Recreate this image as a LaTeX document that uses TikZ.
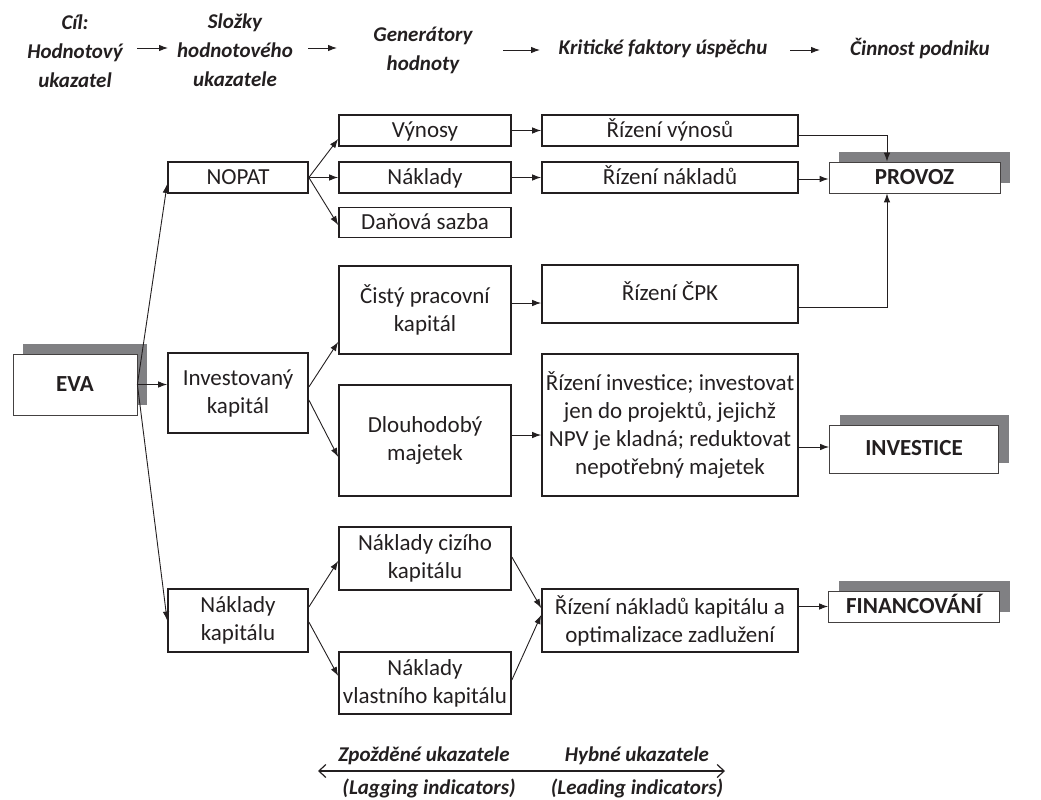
\documentclass[tikz,border=0pt]{standalone}
\usepackage{fontspec}
\setmainfont{Carlito}
\usetikzlibrary{arrows.meta,shadows}
\definecolor{ink}{RGB}{35,31,32}
\definecolor{shadowgray}{RGB}{128,128,131}

\begin{document}
\begin{tikzpicture}[x=1pt,y=-1pt,>={Latex[length=9pt,width=6.5pt]},
    every node/.style={text=ink,font=\fontsize{23}{28}\selectfont},
    box/.style={draw=ink,line width=1.7pt,align=center,inner sep=1pt},
    one line/.style={text height=16pt,text depth=3pt},
    col1 node/.style={box,minimum width=140pt},
    col2 node/.style={box,minimum width=172pt},
    col3 node/.style={box,minimum width=256pt},
    goal node/.style={draw=ink!85,line width=0.8pt,fill=white,minimum width=171pt,one line,
      font=\fontsize{23}{28}\selectfont\bfseries,
      drop shadow={shadow xshift=10pt,shadow yshift=10pt,fill=shadowgray,opacity=1}},
    head/.style={align=center,font=\fontsize{21}{29}\selectfont\bfseries\itshape},
    conn/.style={->,draw=ink,line width=0.9pt} ]
    \useasboundingbox (0,0) rectangle (1041,800);
    % header row
    \node at (75,51) [head] (hcil) {Cíl:\\Hodnotový\\ukazatel};
    \node at (235,50) [head] (hslozky) {Složky\\hodnotového\\ukazatele};
    \node at (423,50) [head] (hgen) {Generátory\\hodnoty};
    \node at (663,49) [head] (hkfu) {Kritické faktory úspěchu};
    \node at (920,49) [head] (hcin) {Činnost podniku};
    \coordinate (h1a) at (137,48); \coordinate (h1b) at (168,48);
    \coordinate (h2a) at (308,48); \coordinate (h2b) at (337,48);
    \coordinate (h3a) at (503,50); \coordinate (h3b) at (540,50);
    \coordinate (h4a) at (790,50); \coordinate (h4b) at (820,50);
    \draw [conn] (h1a) -- (h1b);
    \draw [conn] (h2a) -- (h2b);
    \draw [conn] (h3a) -- (h3b);
    \draw [conn] (h4a) -- (h4b);
    % goal
    \node at (75,384.5) [goal node,minimum width=124pt,minimum height=61pt] (eva) {EVA};
    % components
    \node at (238,177.5) [col1 node,one line,minimum height=31pt] (nopat) {NOPAT};
    \node at (238,393) [col1 node,minimum height=80pt] (inv) {Investovaný\\kapitál};
    \node at (238,620.5) [col1 node,minimum height=63pt] (nk) {Náklady\\kapitálu};
    % value drivers
    \node at (425,130.5) [col2 node,one line,minimum height=31pt] (vyn) {Výnosy};
    \node at (425,177.5) [col2 node,one line,minimum height=31pt] (nakl) {Náklady};
    \node at (425,222.5) [col2 node,one line,minimum height=30pt] (dan) {Daňová sazba};
    \node at (425,310) [col2 node,minimum height=88pt] (cpk) {Čistý pracovní\\kapitál};
    \node at (425,440.5) [col2 node,minimum height=111pt] (dlh) {Dlouhodobý\\majetek};
    \node at (425,558.5) [col2 node,minimum height=63pt] (ncz) {Náklady cizího\\kapitálu};
    \node at (425,683) [col2 node,minimum height=62pt] (nvl) {Náklady\\vlastního kapitálu};
    % critical success factors
    \node at (670,130.5) [col3 node,one line,minimum height=31pt] (rvyn) {Řízení výnosů};
    \node at (670,177.5) [col3 node,one line,minimum height=31pt] (rnakl) {Řízení nákladů};
    \node at (670,294) [col3 node,one line,minimum height=58pt] (rcpk) {Řízení ČPK};
    \node at (670,425) [col3 node,minimum height=142pt] (rinv) {Řízení investice; investovat\\jen do projektů, jejichž\\NPV je kladná; reduktovat\\nepotřebný majetek};
    \node at (670,620.5) [col3 node,minimum height=63pt] (rnk) {Řízení nákladů kapitálu a\\optimalizace zadlužení};
    % activities
    \node at (914.5,177.5) [goal node,minimum height=31pt] (provoz) {PROVOZ};
    \node at (914,449) [goal node,minimum width=169pt,minimum height=48pt] (invest) {INVESTICE};
    \node at (914,606.5) [goal node,minimum height=31pt] (fin) {FINANCOVÁNÍ};
    % EVA -> components
    \draw [conn] (eva.east) to ([yshift=-6.5pt]nopat.west);
    \draw [conn] (eva.east) to (eva.east -| inv.west);
    \draw [conn] (eva.east) to (nk.west);
    % components -> drivers
    \draw [conn] (nopat.east) to ([yshift=-8.5pt]vyn.west);
    \draw [conn] (nopat.east) to (nakl.west);
    \draw [conn] (nopat.east) to ([yshift=-2.5pt]dan.west);
    \draw [conn] ([yshift=6pt]inv.east) to ([yshift=-32pt]cpk.west);
    \draw [conn] ([yshift=-7pt]inv.east) to ([yshift=-16.5pt]dlh.west);
    \draw [conn] ([yshift=13.5pt]nk.east) to ([yshift=-2.5pt]ncz.west);
    \draw [conn] ([yshift=-1.5pt]nk.east) to ([yshift=7pt]nvl.west);
    % drivers -> factors
    \draw [conn] (vyn.east) to (rvyn.west);
    \draw [conn] (nakl.east) to (rnakl.west);
    \draw [conn] ([yshift=7pt]cpk.east) to ([yshift=-9pt]rcpk.west);
    \draw [conn] ([yshift=5.5pt]dlh.east) to ([yshift=-10pt]rinv.west);
    \draw [conn] ([yshift=1.5pt]ncz.east) to ([yshift=12.5pt]rnk.west);
    \draw [conn] ([yshift=3pt]nvl.east) to ([yshift=5.5pt]rnk.west);
    % factors -> activities
    \draw [conn] ([yshift=-4.5pt]rvyn.east) -| ([xshift=-27.5pt]provoz.north);
    \draw [conn] ([yshift=-1.5pt]rnakl.east) to ([yshift=-1.5pt]provoz.west);
    \draw [conn] ([yshift=-13pt]rcpk.east) -| ([xshift=-27.5pt]provoz.south);
    \draw [conn] ([yshift=-22pt]rinv.east) to ([yshift=2pt]invest.west);
    \draw [conn] (rnk.east |- fin.west) to (fin.west);
    % lagging / leading
    \coordinate (lagend) at (318,771);
    \coordinate (leadend) at (725,771);
    \draw [{Straight Barb[length=7pt,width=13pt]}-{Straight Barb[length=7pt,width=13pt]},draw=ink,line width=1.2pt] (lagend) -- (leadend);
    \node at (424,756) [head] (lagtop) {Zpožděné ukazatele};
    \node at (429,788) [head] (lagbot) {(Lagging indicators)};
    \node at (637,756) [head] (leadtop) {Hybné ukazatele};
    \node at (637,788) [head] (leadbot) {(Leading indicators)};
\end{tikzpicture}
\end{document}
